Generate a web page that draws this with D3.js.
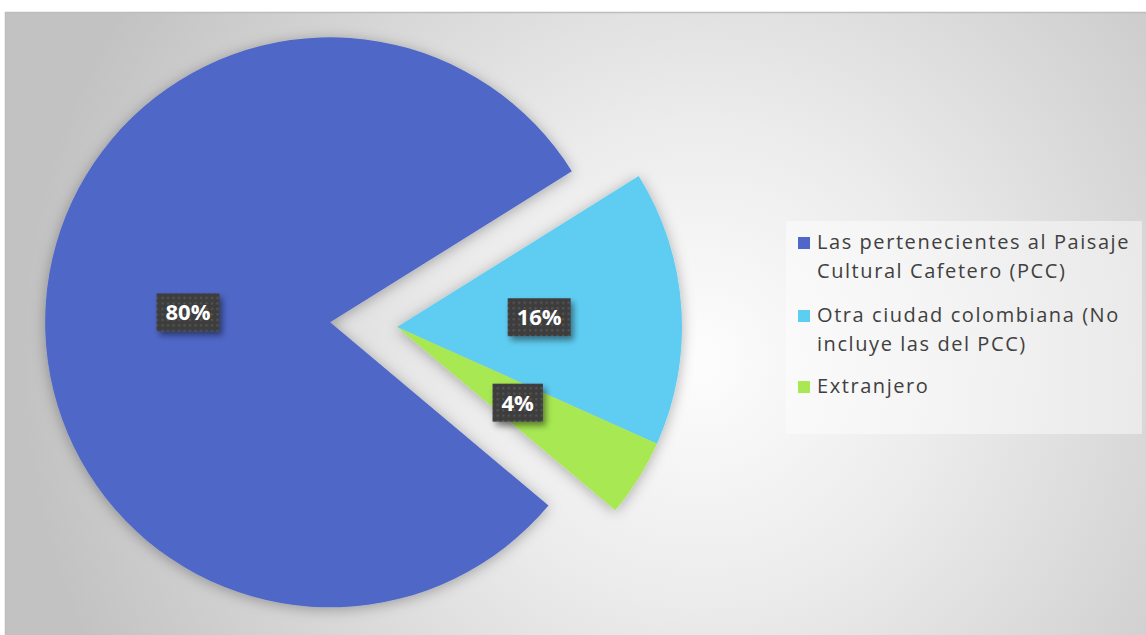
<!DOCTYPE html>
<html>
<head>
<meta charset="utf-8">
<script src="https://cdn.jsdelivr.net/npm/d3@7"></script>
<style>
  html, body { margin: 0; padding: 0; background: #fff; }
  svg { display: block; }
  text { font-family: "Open Sans", Lato, sans-serif; }
</style>
</head>
<body>
<svg id="chart" width="1146" height="635"></svg>
<script>
// data
const categories = [
  ['Las pertenecientes al Paisaje', 'Cultural Cafetero (PCC)'],
  ['Otra ciudad colombiana (No', 'incluye las del PCC)'],
  ['Extranjero'],
];
const values = [80, 15.6, 4.4];
const labels = ['80%', '16%', '4%'];
const colors = ['#4f67c8', '#5ecdf2', '#a8e853'];

const W = 1146;
const H = 635;
const svg = d3.select('#chart');
const defs = svg.append('defs');

// plot background
const bg = defs.append('radialGradient')
  .attr('id', 'bg')
  .attr('gradientUnits', 'userSpaceOnUse')
  .attr('cx', 700).attr('cy', 360).attr('r', 680);
bg.append('stop').attr('offset', '0%').attr('stop-color', '#fdfdfd');
bg.append('stop').attr('offset', '35%').attr('stop-color', '#ececec');
bg.append('stop').attr('offset', '100%').attr('stop-color', '#c2c2c2');

const shadow = defs.append('filter').attr('id', 'shadow')
  .attr('x', '-20%').attr('y', '-20%').attr('width', '140%').attr('height', '140%');
shadow.append('feDropShadow')
  .attr('dx', 0).attr('dy', 2).attr('stdDeviation', 7)
  .attr('flood-color', '#000').attr('flood-opacity', 0.3);

const boxShadow = defs.append('filter').attr('id', 'boxShadow')
  .attr('x', '-30%').attr('y', '-30%').attr('width', '160%').attr('height', '160%');
boxShadow.append('feDropShadow')
  .attr('dx', 3).attr('dy', 4).attr('stdDeviation', 3)
  .attr('flood-color', '#000').attr('flood-opacity', 0.45);

const dots = defs.append('pattern').attr('id', 'dots')
  .attr('patternUnits', 'userSpaceOnUse').attr('width', 5.5).attr('height', 5.5);
dots.append('rect').attr('width', 5.5).attr('height', 5.5).attr('fill', '#3e3e3e');
dots.append('rect').attr('x', 1).attr('y', 1).attr('width', 2).attr('height', 2).attr('fill', '#555');

svg.append('rect')
  .attr('x', 5).attr('y', 12)
  .attr('width', W - 5).attr('height', H - 12)
  .attr('fill', 'url(#bg)');
svg.append('path')
  .attr('d', `M5.5,${H} V12.5 H${W}`)
  .attr('fill', 'none').attr('stroke', '#bdbdbd').attr('stroke-width', 1.5);

// pie
const cx = 397;
const cy = 327;
const radius = 285;
const explode = [67, 0, 0];
const startAngle = (130 * Math.PI) / 180;

const pie = d3.pie().sort(null).value((d) => d)
  .startAngle(startAngle).endAngle(startAngle + 2 * Math.PI);
const arcs = pie(values);
const arc = d3.arc().innerRadius(0).outerRadius(radius);

const offset = (d, i) => {
  const a = (d.startAngle + d.endAngle) / 2;
  return [Math.sin(a) * explode[i], -Math.cos(a) * explode[i]];
};

const g = svg.append('g').attr('transform', `translate(${cx},${cy})`);

g.append('g').attr('filter', 'url(#shadow)')
  .selectAll('path')
  .data(arcs)
  .join('path')
  .attr('transform', (d, i) => `translate(${offset(d, i)})`)
  .attr('d', arc)
  .attr('fill', (d, i) => colors[i]);

// data labels
const lab = g.selectAll('g.lab')
  .data(arcs)
  .join('g')
  .attr('class', 'lab')
  .attr('transform', (d, i) => {
    const [ox, oy] = offset(d, i);
    const [x, y] = arc.centroid(d);
    return `translate(${x + ox},${y + oy})`;
  });

lab.each(function (d, i) {
  const el = d3.select(this);
  const t = el.append('text')
    .attr('text-anchor', 'middle')
    .attr('dy', '0.36em')
    .attr('fill', '#fff')
    .attr('font-weight', 'bold')
    .attr('font-size', 22)
    .text(labels[i]);
  const bw = t.node().getComputedTextLength() + 18;
  el.insert('rect', 'text')
    .attr('x', -bw / 2).attr('y', -19)
    .attr('width', bw).attr('height', 38)
    .attr('fill', 'url(#dots)')
    .attr('filter', 'url(#boxShadow)');
});

// legend
const legend = svg.append('g');
legend.append('rect')
  .attr('x', 786).attr('y', 221)
  .attr('width', 356).attr('height', 213)
  .attr('fill', '#fff').attr('fill-opacity', 0.45);

const baselines = [249, 322, 393];
const items = legend.selectAll('g.item')
  .data(categories)
  .join('g')
  .attr('class', 'item')
  .attr('transform', (d, i) => `translate(798,${baselines[i]})`);

items.append('rect')
  .attr('x', 0).attr('y', -12)
  .attr('width', 12).attr('height', 12)
  .attr('fill', (d, i) => colors[i]);

const legendText = items.append('text')
  .attr('x', 19)
  .attr('fill', '#404040')
  .attr('font-size', 20);
legendText.selectAll('tspan')
  .data((d) => d)
  .join('tspan')
  .attr('x', 19)
  .attr('y', (d, j) => j * 28.5)
  .text((d) => d);

// widen spacing so the longest line spans about 313px, like the original font
const first = legendText.select('tspan').node();
const target = 313;
const len = first.getComputedTextLength();
const chars = categories[0][0].length;
const spacing = Math.max(0, (target - len) / chars);
legendText.attr('letter-spacing', spacing);
</script>
</body>
</html>
